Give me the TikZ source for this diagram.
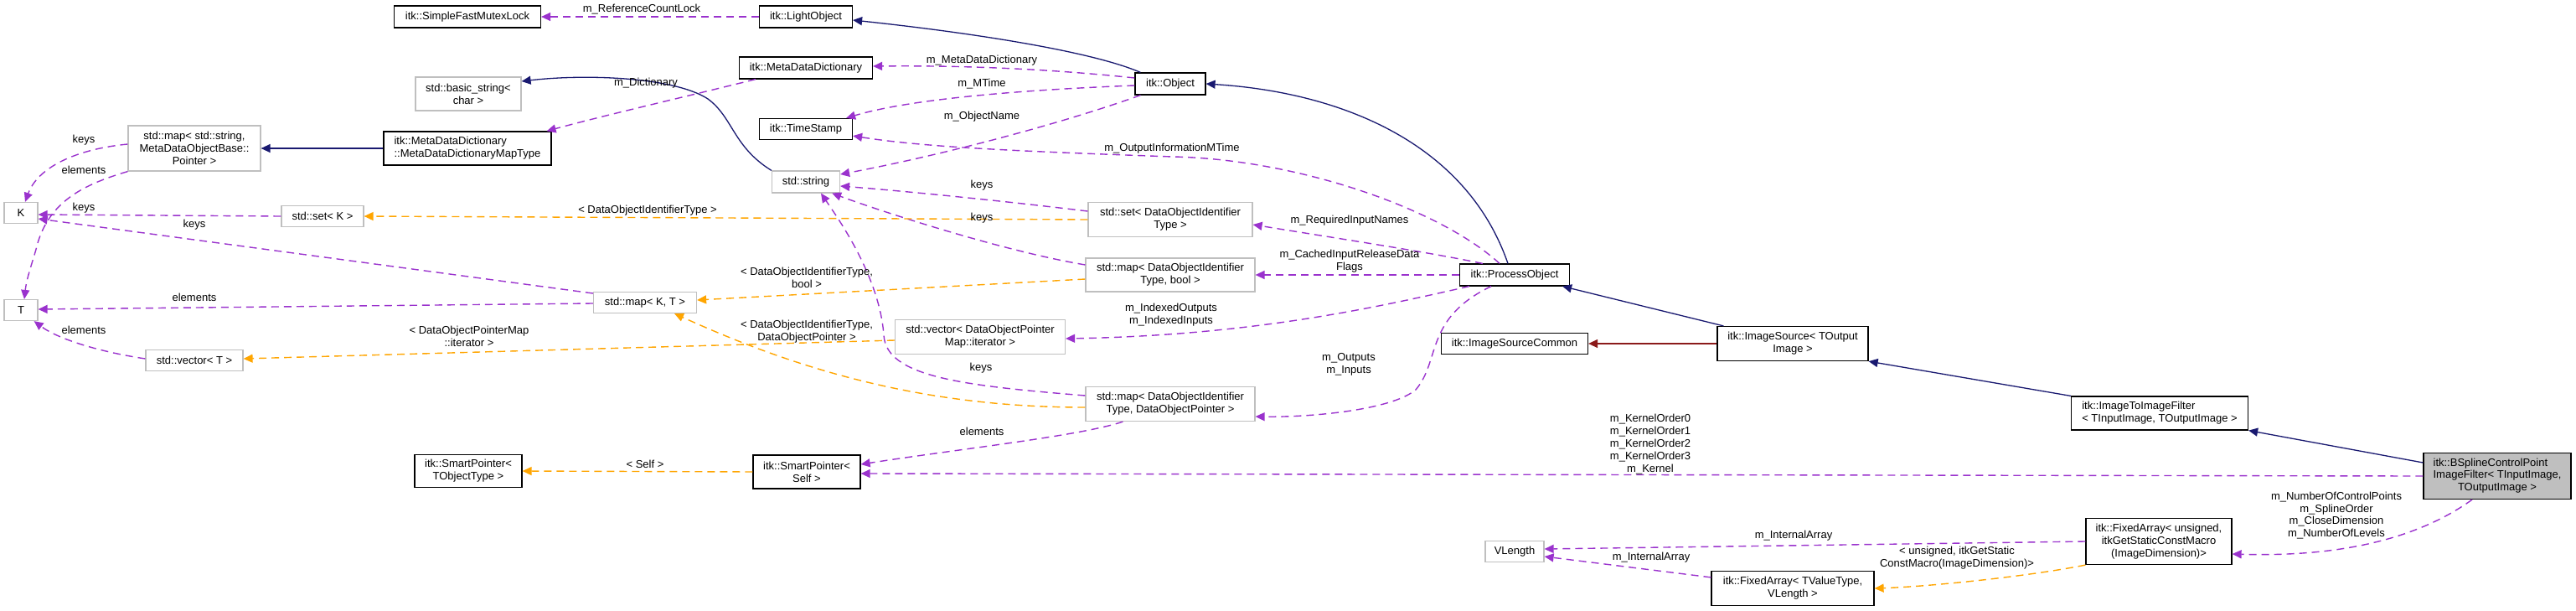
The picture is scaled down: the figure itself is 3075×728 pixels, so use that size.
\documentclass[tikz,border=0pt]{standalone}
\usepackage{fontspec}
\setmainfont{Liberation Sans}
\usetikzlibrary{arrows.meta,calc}
\newcommand\dfont{\fontsize{13}{14.8}\selectfont}
\definecolor{navyc}{HTML}{191970}
\definecolor{purp}{HTML}{9A32CD}
\definecolor{orng}{HTML}{FFA500}
\definecolor{dred}{HTML}{8B1A1A}
\definecolor{grayb}{HTML}{BFBFBF}
\tikzset{
  cls/.style={draw=black, line width=1.2pt, fill=white, inner sep=0pt, font=\dfont, align=center},
  ext/.style={draw=grayb, line width=1.2pt, fill=white, inner sep=0pt, font=\dfont, align=center},
  lbl/.style={inner sep=0pt, font=\dfont, align=center},
  tip/.style={-{Triangle[length=11pt,width=10pt]}},
  inh/.style={tip, draw=navyc, line width=1.3pt},
  redinh/.style={tip, draw=dred, line width=1.3pt},
  use/.style={tip, draw=purp, line width=1.4pt, dash pattern=on 9pt off 6pt},
  tmpl/.style={tip, draw=orng, line width=1.4pt, dash pattern=on 9pt off 6pt},
}
\begin{document}
\begin{tikzpicture}[x=1pt,y=-1pt]
\useasboundingbox (0,0) rectangle (3075,728);
% nodes
\node[cls, minimum width=175pt, minimum height=26pt] (sfml) at (558,20) {itk::SimpleFastMutexLock};
\node[cls, minimum width=111pt, minimum height=26pt] (light) at (962,20) {itk::LightObject};
\node[ext, minimum width=126pt, minimum height=40pt] (bstr) at (559,112) {std::basic\_string<\\char >};
\node[cls, minimum width=159pt, minimum height=26pt] (mdd) at (962,81) {itk::MetaDataDictionary};
\node[ext, minimum width=158pt, minimum height=54pt] (mapstr) at (232,177) {std::map< std::string,\\MetaDataObjectBase::\\Pointer >};
\node[cls, minimum width=200pt, minimum height=40pt, align=left] (mdmt) at (558,177) {itk::MetaDataDictionary\\::MetaDataDictionaryMapType};
\node[cls, minimum width=84pt, minimum height=26pt] (obj) at (1397,100) {itk::Object};
\node[cls, minimum width=111pt, minimum height=25pt] (ts) at (962,154) {itk::TimeStamp};
\node[ext, minimum width=81pt, minimum height=26pt] (str) at (962,217) {std::string};
\node[ext, minimum width=40pt, minimum height=25pt] (K) at (25,254) {K};
\node[ext, minimum width=98pt, minimum height=25pt] (setK) at (385,258) {std::set< K >};
\node[ext, minimum width=40pt, minimum height=25pt] (T) at (25,370) {T};
\node[ext, minimum width=123pt, minimum height=25pt] (mapKT) at (770,361) {std::map< K, T >};
\node[ext, minimum width=116pt, minimum height=25pt] (vecT) at (232,430) {std::vector< T >};
\node[ext, minimum width=196pt, minimum height=41pt] (setD) at (1397,262) {std::set< DataObjectIdentifier\\Type >};
\node[ext, minimum width=202pt, minimum height=40pt] (mapDb) at (1397,328) {std::map< DataObjectIdentifier\\Type, bool >};
\node[ext, minimum width=203pt, minimum height=41pt] (vecD) at (1170,402) {std::vector< DataObjectPointer\\Map::iterator >};
\node[ext, minimum width=202pt, minimum height=41pt] (mapDP) at (1397,482) {std::map< DataObjectIdentifier\\Type, DataObjectPointer >};
\node[cls, minimum width=131pt, minimum height=26pt] (po) at (1808,328) {itk::ProcessObject};
\node[cls, minimum width=175pt, minimum height=25pt] (isc) at (1808,410) {itk::ImageSourceCommon};
\node[cls, minimum width=180pt, minimum height=41pt] (is) at (2140,410) {\begin{tabular}{@{}l@{}}itk::ImageSource< TOutput\\\multicolumn{1}{@{}c@{}}{Image >}\end{tabular}};
\node[cls, minimum width=211pt, minimum height=40pt, align=left] (i2i) at (2578,493) {itk::ImageToImageFilter\\< TInputImage, TOutputImage >};
\node[cls, fill=grayb, minimum width=176pt, minimum height=55pt] (bs) at (2981,568) {\begin{tabular}{@{}l@{}}itk::BSplineControlPoint\\ImageFilter< TInputImage,\\\multicolumn{1}{@{}c@{}}{TOutputImage >}\end{tabular}};
\node[cls, minimum width=174pt, minimum height=55pt] (faU) at (2577,646) {itk::FixedArray< unsigned,\\itkGetStaticConstMacro\\(ImageDimension)>};
\node[cls, minimum width=194pt, minimum height=41pt] (faT) at (2140,702) {itk::FixedArray< TValueType,\\VLength >};
\node[ext, minimum width=70pt, minimum height=25pt] (vlen) at (1808,658) {VLength};
\node[cls, minimum width=128pt, minimum height=40pt] (spS) at (963,563) {itk::SmartPointer<\\Self >};
\node[cls, minimum width=128pt, minimum height=39pt] (spT) at (559,562) {itk::SmartPointer<\\TObjectType >};

% inheritance
\draw[inh] ($(obj.north west)+(7,0)$) .. controls (1300,60) and (1150,38) .. ($(light.east)+(0,4)$);
\draw[inh] (str.north west) .. controls (875,175) and (875,140) .. (845,118) .. controls (805,92) and (700,88) .. ($(bstr.east)+(0,-15)$);
\draw[inh] ($(po.north)+(-8,0)$) .. controls (1750,170) and (1600,110) .. (obj.east);
\draw[inh] ($(is.north west)+(8,0)$) -- ($(po.south east)+(-9,0)$);
\draw[inh] (i2i.north west) -- (is.south east);
\draw[inh] ($(bs.west)+(0,-16)$) -- (i2i.south east);
\draw[redinh] (is.west) -- (isc.east);
\draw[inh] (mdmt.west) -- (mapstr.east);

% usage
\draw[use] (light.west) -- (sfml.east);
\draw[use] ($(obj.west)+(0,-7)$) .. controls (1250,82) and (1150,78) .. ($(mdd.east)+(0,-2)$);
\draw[use] ($(obj.west)+(0,2)$) .. controls (1200,108) and (1080,120) .. ($(ts.north east)+(-8,0)$);
\draw[use] ($(obj.south west)+(7,0)$) .. controls (1280,143) and (1140,182) .. ($(str.east)+(0,-9)$);
\draw[use] ($(po.north)+(-18,0)$) .. controls (1720,250) and (1550,190) .. (1400,187) .. controls (1200,180) and (1100,175) .. ($(ts.south east)+(0,-5)$);
\draw[use] ($(setD.west)+(0,-10)$) .. controls (1200,240) and (1080,228) .. ($(str.east)+(0,5)$);
\draw[use] ($(mapDb.west)+(0,-12)$) .. controls (1200,300) and (1060,255) .. ($(str.south east)+(-10,0)$);
\draw[use] ($(mapDP.west)+(0,-10)$) .. controls (1150,460) and (1058,450) .. (1055,400) .. controls (1050,330) and (1000,260) .. ($(str.south)+(18,0)$);
\draw[use] ($(po.north west)+(28,0)$) .. controls (1700,300) and (1600,285) .. ($(setD.east)+(0,6)$);
\draw[use] (po.west) -- (mapDb.east);
\draw[use] ($(po.south west)+(12,0)$) .. controls (1650,365) and (1500,400) .. ($(vecD.east)+(0,2)$);
\draw[use] ($(po.south)+(-28,0)$) .. controls (1700,380) and (1720,430) .. (1690,465) .. controls (1660,490) and (1560,498) .. ($(mapDP.east)+(0,15)$);
\draw[use] ($(mapDP.south west)+(45,0)$) .. controls (1290,520) and (1150,535) .. ($(spS.east)+(0,-9)$);
\draw[use] (bs.west) -- ($(spS.east)+(0,2)$);
\draw[use] ($(bs.south)+(-30,0)$) .. controls (2890,640) and (2800,665) .. ($(faU.east)+(0,15)$);
\draw[use] (faU.west) -- ($(vlen.east)+(0,-3)$);
\draw[use] ($(faT.north west)+(0,8)$) -- ($(vlen.east)+(0,6)$);
\draw[use] ($(mapstr.west)+(0,-5)$) .. controls (90,178) and (45,200) .. ($(K.north)+(5,0)$);
\draw[use] (mapstr.south west) .. controls (100,220) and (60,240) .. (45,290) .. controls (40,310) and (32,330) .. ($(T.north)+(4,0)$);
\draw[use] (setK.west) -- ($(K.east)+(0,2)$);
\draw[use] ($(mapKT.west)+(0,-11)$) -- ($(K.east)+(0,7)$);
\draw[use] ($(mapKT.west)+(0,1)$) -- ($(T.east)+(0,-1)$);
\draw[use] ($(vecT.west)+(0,-2)$) .. controls (120,420) and (70,405) .. ($(T.south east)+(-5,0)$);
\draw[use] ($(mdd.south west)+(20,0)$) .. controls (820,115) and (720,138) .. ($(mdmt.north east)+(-6,0)$);

% template
\draw[tmpl] (setD.west) -- (setK.east);
\draw[tmpl] ($(mapDb.west)+(0,5)$) -- ($(mapKT.east)+(0,-3)$);
\draw[tmpl] ($(vecD.west)+(0,4)$) -- ($(vecT.east)+(0,-2)$);
\draw[tmpl] ($(mapDP.west)+(0,4)$) .. controls (1100,486) and (950,440) .. ($(mapKT.south)+(35,0)$);
\draw[tmpl] (spS.west) -- (spT.east);
\draw[tmpl] (faU.south west) .. controls (2420,688) and (2300,700) .. (faT.east);

% labels
\node[lbl] (l1) at (766,11) {m\_ReferenceCountLock};
\node[lbl] (l2) at (1172,72) {m\_MetaDataDictionary};
\node[lbl] (l3) at (1172,100) {m\_MTime};
\node[lbl] (l4) at (1172,139) {m\_ObjectName};
\node[lbl] (l5) at (1399,177) {m\_OutputInformationMTime};
\node[lbl] (l6) at (1172,221) {keys};
\node[lbl] (l7) at (1172,260) {keys};
\node[lbl] (l8) at (1171,439) {keys};
\node[lbl] (l9) at (1611,263) {m\_RequiredInputNames};
\node[lbl] (l10) at (1611,312) {m\_CachedInputReleaseData\\Flags};
\node[lbl] (l11) at (1398,376) {m\_IndexedOutputs\\m\_IndexedInputs};
\node[lbl] (l12) at (1610,435) {m\_Outputs\\m\_Inputs};
\node[lbl] (l13) at (1172,515) {elements};
\node[lbl] (l14) at (1970,530) {m\_KernelOrder0\\m\_KernelOrder1\\m\_KernelOrder2\\m\_KernelOrder3\\m\_Kernel};
\node[lbl] (l15) at (2789,615) {m\_NumberOfControlPoints\\m\_SplineOrder\\m\_CloseDimension\\m\_NumberOfLevels};
\node[lbl] (l16) at (2141,639) {m\_InternalArray};
\node[lbl] (l17) at (1971,665) {m\_InternalArray};
\node[lbl] (l18) at (100,167) {keys};
\node[lbl] (l19) at (100,203) {elements};
\node[lbl] (l20) at (100,248) {keys};
\node[lbl] (l21) at (232,268) {keys};
\node[lbl] (l22) at (232,355) {elements};
\node[lbl] (l23) at (100,394) {elements};
\node[lbl] (l24) at (771,99) {m\_Dictionary};
\node[lbl] (l25) at (773,251) {< DataObjectIdentifierType >};
\node[lbl] (l26) at (963,331) {< DataObjectIdentifierType,\\bool >};
\node[lbl] (l27) at (560,401) {< DataObjectPointerMap\\::iterator >};
\node[lbl] (l28) at (963,396) {< DataObjectIdentifierType,\\DataObjectPointer >};
\node[lbl] (l29) at (770,554) {< Self >};
\node[lbl] (l30) at (2336,666) {< unsigned, itkGetStatic\\ConstMacro(ImageDimension)>};
\end{tikzpicture}
\end{document}
